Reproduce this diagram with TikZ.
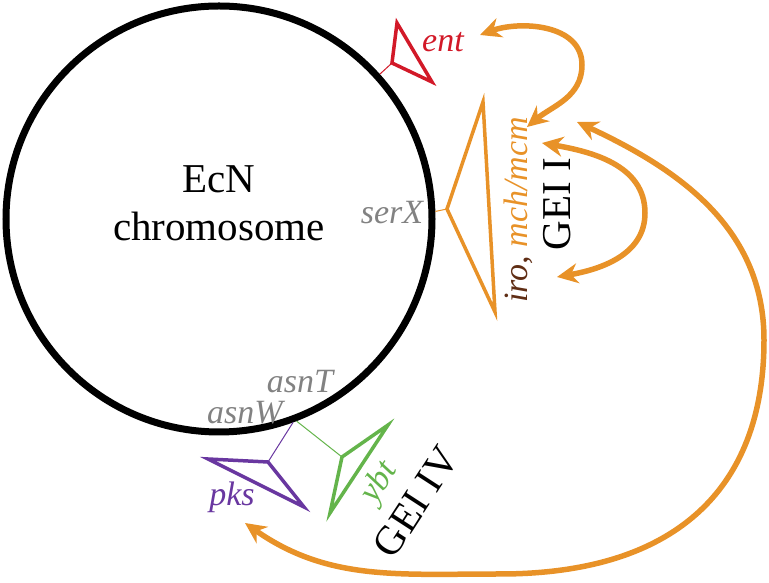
\documentclass[tikz,border=0pt]{standalone}
\usepackage{fontspec}
\setmainfont{Liberation Serif}
\usetikzlibrary{arrows.meta}
\definecolor{geiorange}{RGB}{232,146,40}
\definecolor{entred}{RGB}{210,25,40}
\definecolor{pkspurple}{RGB}{105,55,160}
\definecolor{ybtgreen}{RGB}{100,180,75}
\definecolor{irobrown}{RGB}{95,45,20}
\definecolor{trnagray}{RGB}{130,130,130}

\begin{document}
\begin{tikzpicture}[x=1pt, y=1pt,
    gene/.style={line width=3.5pt, line join=miter},
    stem/.style={line width=1pt},
    lab/.style={font=\fontsize{34}{34}\selectfont\itshape, inner sep=0pt},
    big/.style={font=\fontsize{41}{48}\selectfont, inner sep=0pt},
    link/.style={geiorange, line width=5.5pt,
        {Stealth[length=21pt,width=20pt]}-{Stealth[length=21pt,width=20pt]}}]
    \useasboundingbox (0,0) rectangle (769,583);

    % chromosome
    \node[circle, draw, line width=7pt, minimum size=426pt, inner sep=0pt] (chr) at (219,364) {};
    \node[big, align=center] (chrlab) at (219,380) {EcN\\chromosome};

    % islands on the chromosome
    \coordinate (entj) at (392,520);
    \coordinate (serj) at (447,374);
    \coordinate (pksj) at (268,121);
    \coordinate (ybtj) at (342,126);
    \draw[stem, entred] (chr.42) -- (entj);
    \draw[gene, entred] (entj) -- (397,560) -- (432,501) -- cycle;
    \draw[stem, geiorange] (chr.2.6) -- (serj);
    \draw[gene, geiorange] (serj) -- (483,481) -- (495,271) -- cycle;
    \draw[stem, pkspurple] (chr.-70.5) -- (pksj);
    \draw[gene, pkspurple] (pksj) -- (208,124) -- (304,76) -- cycle;
    \draw[stem, ybtgreen] (chr.-69) -- (ybtj);
    \draw[gene, ybtgreen] (ybtj) -- (388,158) -- (330,70) -- cycle;

    \node[lab, entred] (ent) at (443,541) {ent};
    \node[lab, trnagray] (serx) at (392,370) {serX};
    \node[lab, trnagray] (asnt) at (300,201) {asnT};
    \node[lab, trnagray] (asnw) at (245,170) {asnW};
    \node[lab, pkspurple] (pks) at (232,86) {pks};
    \node[lab, ybtgreen, rotate=57] (ybt) at (380,100) {ybt};
    \node[big, rotate=57] (gei4) at (416,81) {GEI IV};
    \node[lab, rotate=90] (iro) at (518,373) {\color{irobrown}iro, \color{geiorange}mch/mcm};
    \node[big, rotate=90] (gei1) at (557,379) {GEI I};

    % transfer between islands
    \coordinate (a1s) at (480,548);
    \coordinate (a1m) at (582,518);
    \coordinate (a1e) at (527,456);
    \coordinate (a2s) at (542,440);
    \coordinate (a2m) at (645,370);
    \coordinate (a2e) at (557,306);
    \coordinate (a3s) at (577,461);
    \coordinate (a3m) at (764,243);
    \coordinate (a3b) at (500,9);
    \coordinate (a3e) at (245,60);
    \draw[link] (a1s) to[out=20,in=90] (a1m) to[out=-90,in=40] (a1e);
    \draw[link] (a2s) to[out=-10,in=90] (a2m) to[out=-90,in=10] (a2e);
    \draw[link] (a3s) to[out=-25,in=90] (a3m) .. controls (764,91) and (672,9) .. (a3b)
        to[out=180,in=-35] (a3e);
\end{tikzpicture}
\end{document}
